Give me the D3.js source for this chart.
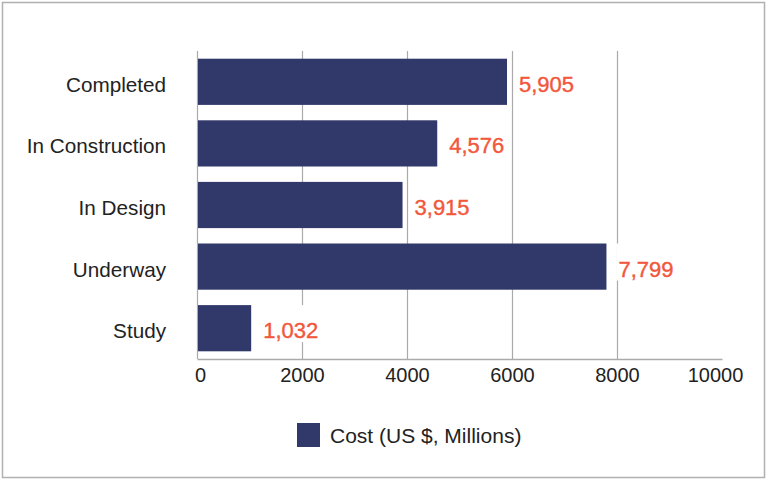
<!DOCTYPE html>
<html>
<head>
<meta charset="utf-8">
<script src="https://cdn.jsdelivr.net/npm/d3@7/dist/d3.min.js"></script>
<style>
  html, body { margin: 0; padding: 0; background: #fff; }
  svg { display: block; font-family: "Liberation Sans", Arial, Helvetica, sans-serif; }
</style>
</head>
<body>
<svg id="chart" width="767" height="481"></svg>
<script>
const categories = ["Completed", "In Construction", "In Design", "Underway", "Study"];
const costValues = [5905, 4576, 3915, 7799, 1032];
const xTicks = [0, 2000, 4000, 6000, 8000, 10000];
const seriesName = "Cost (US $, Millions)";

const svg = d3.select("#chart");
const W = 767, H = 481;
const mLeft = 197, mRight = 722, mTop = 51, mBottom = 359;
const barColor = "#31386a";
const labelColor = "#f2573b";
const textColor = "#222";
const gridColor = "#aaaaaa";

// outer border
svg.append("rect").attr("x", 2.5).attr("y", 2.5).attr("width", W - 5).attr("height", H - 6)
  .attr("fill", "#fff").attr("stroke", "#b0b0b0").attr("stroke-width", 1.5);

const x = d3.scaleLinear().domain([0, 10000]).range([mLeft, mRight]);
const y = d3.scaleBand().domain(categories).range([mTop, mBottom]).paddingInner(0.25).paddingOuter(0.125);

// gridlines (no line at the max)
svg.append("g").selectAll("line").data(xTicks.filter(t => t < 10000)).join("line")
  .attr("x1", d => x(d) + 0.5).attr("x2", d => x(d) + 0.5)
  .attr("y1", mTop).attr("y2", mBottom)
  .attr("stroke", gridColor).attr("stroke-width", 1.2);

// x axis
const xAxis = d3.axisBottom(x).tickValues(xTicks).tickFormat(d3.format("d")).tickSize(0).tickPadding(8.5);
const gx = svg.append("g").attr("transform", `translate(0,${mBottom})`).call(xAxis);
gx.select(".domain").attr("stroke", gridColor).attr("stroke-width", 1.5);
gx.selectAll("text").attr("font-size", 20).attr("fill", textColor)
  .attr("font-family", "'Liberation Sans', Arial, sans-serif");
gx.selectAll(".tick").filter(d => d === 10000).select("text").attr("dx", -7);
gx.selectAll(".tick").filter(d => d === 0).select("text").attr("dx", 3);

// y axis labels
const yAxis = d3.axisLeft(y).tickSize(0).tickPadding(31);
const gy = svg.append("g").attr("transform", `translate(${mLeft},0)`).call(yAxis);
gy.select(".domain").remove();
gy.selectAll("text").attr("font-size", 20.7).attr("fill", textColor)
  .attr("font-family", "'Liberation Sans', Arial, sans-serif")
  .attr("dy", null).attr("y", 10);

// bars
const data = categories.map((c, i) => ({ c, v: costValues[i] }));
svg.append("g").selectAll("rect").data(data).join("rect")
  .attr("x", x(0) + 1).attr("y", d => y(d.c))
  .attr("width", d => x(d.v) - x(0) - 1).attr("height", y.bandwidth())
  .attr("fill", barColor);

// value labels with white background
const fmt = d3.format(",");
const lg = svg.append("g").selectAll("g").data(data).join("g");
lg.each(function(d) {
  const g = d3.select(this);
  const t = g.append("text")
    .attr("x", x(d.v) + 12).attr("y", y(d.c) + y.bandwidth() / 2 + 10)
    .attr("font-size", 22).attr("fill", labelColor)
    .attr("stroke", labelColor).attr("stroke-width", 0.4)
    .text(fmt(d.v));
  const b = t.node().getBBox();
  g.insert("rect", "text").attr("x", b.x - 2).attr("y", y(d.c)).attr("width", b.width + 4)
    .attr("height", 37).attr("fill", "#fff");
});

// legend
const leg = svg.append("g").attr("transform", "translate(297,423)");
leg.append("rect").attr("width", 23).attr("height", 24).attr("fill", barColor);
leg.append("text").attr("x", 33).attr("y", 19.5)
  .attr("font-size", 21).attr("fill", textColor).text(seriesName);
</script>
</body>
</html>
